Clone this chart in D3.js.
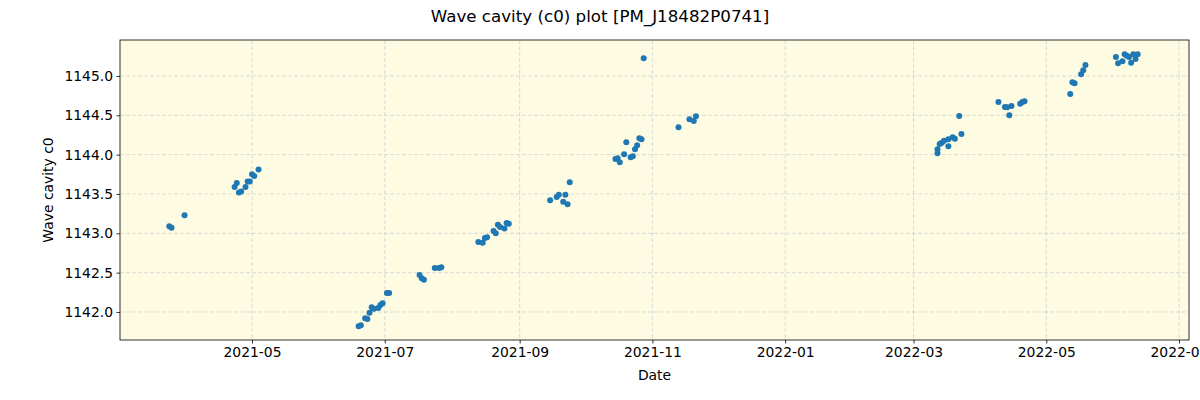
<!DOCTYPE html>
<html>
<head>
<meta charset="utf-8">
<script src="https://cdn.jsdelivr.net/npm/d3@7"></script>
<style>
  body { margin: 0; background: #ffffff; }
  svg { display: block; font-family: "DejaVu Sans", sans-serif; }
</style>
</head>
<body>
<div id="chart"></div>
<script>
const title = "Wave cavity (c0) plot [PM_J18482P0741]";
const xLabel = "Date";
const yLabel = "Wave cavity c0";

const dates = [
  "2021-03-24","2021-03-25","2021-03-31",
  "2021-04-23","2021-04-24","2021-04-25","2021-04-26","2021-04-28","2021-04-29","2021-04-30","2021-05-01","2021-05-02","2021-05-04",
  "2021-06-19","2021-06-20","2021-06-22","2021-06-23","2021-06-24","2021-06-25","2021-06-26","2021-06-28","2021-06-29","2021-06-30","2021-07-02","2021-07-03",
  "2021-07-17","2021-07-18","2021-07-19","2021-07-24","2021-07-26","2021-07-27",
  "2021-08-13","2021-08-15","2021-08-16","2021-08-17","2021-08-20","2021-08-21","2021-08-22","2021-08-23","2021-08-25","2021-08-26","2021-08-27",
  "2021-09-15","2021-09-18","2021-09-19","2021-09-21","2021-09-22","2021-09-23","2021-09-24",
  "2021-10-15","2021-10-16","2021-10-17","2021-10-19","2021-10-20","2021-10-22","2021-10-23","2021-10-24","2021-10-25","2021-10-26","2021-10-27","2021-10-28",
  "2021-11-13","2021-11-18","2021-11-20","2021-11-21",
  "2022-03-12","2022-03-12","2022-03-13","2022-03-14","2022-03-15","2022-03-17","2022-03-17","2022-03-19","2022-03-20","2022-03-22","2022-03-23",
  "2022-04-09","2022-04-12","2022-04-13","2022-04-14","2022-04-15","2022-04-19","2022-04-20","2022-04-21",
  "2022-05-12","2022-05-13","2022-05-14","2022-05-17","2022-05-18","2022-05-19",
  "2022-06-02","2022-06-03","2022-06-05","2022-06-06","2022-06-07","2022-06-08","2022-06-09","2022-06-10","2022-06-11","2022-06-12"
];
const values = [
  1143.09,1143.07,1143.23,
  1143.59,1143.64,1143.52,1143.53,1143.59,1143.66,1143.66,1143.75,1143.73,1143.81,
  1141.82,1141.83,1141.92,1141.91,1141.99,1142.06,1142.04,1142.05,1142.09,1142.11,1142.24,1142.24,
  1142.47,1142.43,1142.41,1142.56,1142.56,1142.57,
  1142.89,1142.88,1142.94,1142.95,1143.03,1143.00,1143.11,1143.08,1143.06,1143.13,1143.12,
  1143.42,1143.46,1143.49,1143.40,1143.49,1143.37,1143.65,
  1143.945,1143.954,1143.903,1144.005,1144.157,1143.967,1143.979,1144.068,1144.119,1144.208,1144.195,1145.225,
  1144.348,1144.45,1144.428,1144.488,
  1144.017,1144.068,1144.135,1144.152,1144.177,1144.195,1144.106,1144.22,1144.203,1144.49,1144.263,
  1144.669,1144.606,1144.602,1144.50,1144.619,1144.648,1144.669,1144.678,
  1144.771,1144.92,1144.907,1145.021,1145.072,1145.14,
  1145.241,1145.161,1145.187,1145.276,1145.258,1145.241,1145.169,1145.276,1145.216,1145.276
];
const xTickLabels = ["2021-05","2021-07","2021-09","2021-11","2022-01","2022-03","2022-05","2022-07"];
const yTickValues = [1142.0,1142.5,1143.0,1143.5,1144.0,1144.5,1145.0];

const W = 1200, H = 400;
const margin = {left: 120, right: 11, top: 40, bottom: 60};
const parse = d3.timeParse("%Y-%m-%d");
const parseMonth = d3.timeParse("%Y-%m");

const svg = d3.select("#chart").append("svg").attr("width", W).attr("height", H);

const x = d3.scaleTime()
  .domain([new Date(2021, 2, 1, 8), new Date(2022, 6, 5, 14)])
  .range([margin.left, W - margin.right]);
const y = d3.scaleLinear()
  .domain([1141.644, 1145.457])
  .range([H - margin.bottom, margin.top]);

// background
svg.append("rect")
  .attr("x", margin.left).attr("y", margin.top)
  .attr("width", W - margin.left - margin.right)
  .attr("height", H - margin.top - margin.bottom)
  .attr("fill", "#fdfbe1");

const xTicks = xTickLabels.map(parseMonth);

// grid
const grid = svg.append("g");
grid.selectAll("line.gx").data(xTicks).enter().append("line")
  .attr("x1", d => x(d)).attr("x2", d => x(d))
  .attr("y1", margin.top).attr("y2", H - margin.bottom)
  .attr("stroke", "#d3d3d3").attr("stroke-width", 0.8).attr("stroke-dasharray", "4,2");
grid.selectAll("line.gy").data(yTickValues).enter().append("line")
  .attr("x1", margin.left).attr("x2", W - margin.right)
  .attr("y1", d => y(d)).attr("y2", d => y(d))
  .attr("stroke", "#d3d3d3").attr("stroke-width", 0.8).attr("stroke-dasharray", "4,2");

// points
svg.append("g").selectAll("circle").data(dates.map((d, i) => ({d: parse(d), v: values[i]})))
  .enter().append("circle")
  .attr("cx", p => x(p.d)).attr("cy", p => y(p.v)).attr("r", 3)
  .attr("fill", "#1f77b4");

// axes
const xAxis = d3.axisBottom(x).tickValues(xTicks).tickFormat(d3.timeFormat("%Y-%m")).tickSize(3.5).tickPadding(3.5);
const yAxis = d3.axisLeft(y).tickValues(yTickValues).tickFormat(d3.format(".1f")).tickSize(3.5).tickPadding(3.5);

const gx = svg.append("g").attr("transform", `translate(0,${H - margin.bottom})`).call(xAxis);
const gy = svg.append("g").attr("transform", `translate(${margin.left},0)`).call(yAxis);
[gx, gy].forEach(g => {
  g.select(".domain").remove();
  g.selectAll("line").attr("stroke", "#000").attr("stroke-width", 0.8);
  g.selectAll("text").attr("font-size", "13.9px").attr("fill", "#000").attr("font-family", "DejaVu Sans");
});

// frame
svg.append("rect")
  .attr("x", margin.left).attr("y", margin.top)
  .attr("width", W - margin.left - margin.right)
  .attr("height", H - margin.top - margin.bottom)
  .attr("fill", "none").attr("stroke", "#000").attr("stroke-width", 0.8);

// labels
svg.append("text").attr("x", 600).attr("y", 22).attr("text-anchor", "middle")
  .attr("font-size", "16.7px").text(title);
svg.append("text").attr("x", (margin.left + W - margin.right) / 2).attr("y", 380).attr("text-anchor", "middle")
  .attr("font-size", "13.9px").text(xLabel);
svg.append("text").attr("transform", `translate(53,${(margin.top + H - margin.bottom) / 2}) rotate(-90)`)
  .attr("text-anchor", "middle").attr("font-size", "13.9px").text(yLabel);
</script>
</body>
</html>
